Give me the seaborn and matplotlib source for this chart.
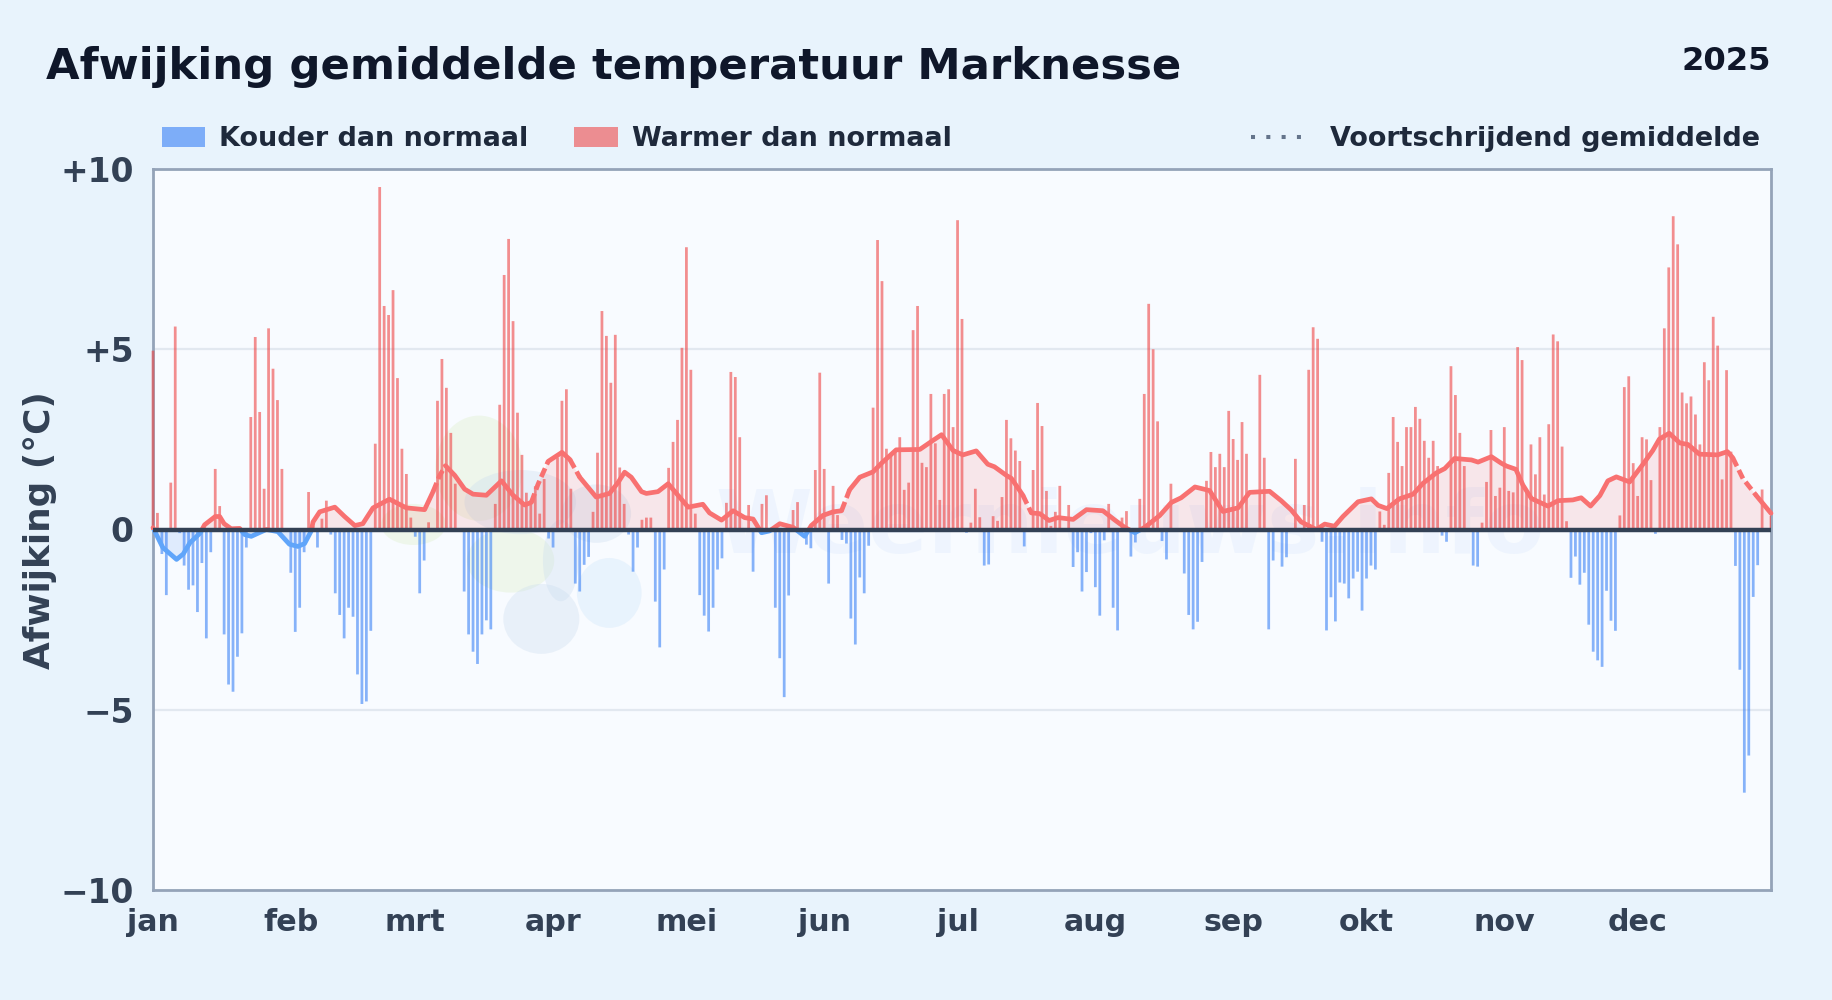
import numpy as np
import pandas as pd
import seaborn as sns
import matplotlib
matplotlib.use("Agg")
import matplotlib.pyplot as plt
from matplotlib.lines import Line2D
from matplotlib.patches import Ellipse, Patch, Rectangle

jan = [4.96,.46,-.68,-1.82,1.3,5.63,-.1,-1.0,-1.67,-1.55,-2.29,-.93,-3.02,-.63,1.68,.65,-2.91,-4.3,-4.5,-3.53,-2.88,-.5,3.12,5.34,3.26,1.13,5.58,4.46,3.59,1.68,0]
feb = [-1.2,-2.84,-2.17,-.63,1.04,.1,-.5,.3,.8,-.14,-1.77,-2.37,-3.02,-2.17,-2.42,-4.02,-4.84,-4.77,-2.81,2.38,9.5,6.2,5.95,6.64,4.2,2.24,1.54,.33]
mrt = [-.2,-1.77,-.86,.2,0,3.57,4.73,3.93,2.68,1.27,0,-1.72,-2.91,-3.39,-3.73,-2.91,-2.52,-2.77,.71,3.46,7.06,8.06,5.78,3.24,2.07,1.02,.7,1.2,.44,1.4,-.25]
apr = [-.5,2.0,3.57,3.89,1.13,-1.5,-1.72,-.98,-.76,.49,2.13,6.06,5.37,4.07,5.4,1.72,.71,-.14,-1.17,-.5,.27,.33,.33,-2.0,-3.27,-1.11,1.71,2.43,3.04,5.04]
mei = [7.83,4.43,.44,-1.82,-2.39,-2.83,-2.17,-1.11,-.8,.74,4.37,4.23,2.56,0,.68,-1.17,0,.71,.95,0,-2.17,-3.57,-4.65,-1.83,.54,.76,0,-.42,-.52,1.65,4.35]
jun = [1.68,-1.5,1.21,.4,-.29,-.39,-2.47,-3.19,-1.33,-1.77,-.45,3.38,8.03,6.89,2.24,2.04,2.19,2.56,1.1,1.3,5.53,6.2,1.85,1.73,3.76,2.39,.82,3.76,3.89,2.84]
jul = [8.58,5.84,-.09,.19,1.13,.34,-1.0,-.97,.37,.24,.9,3.04,2.53,2.19,1.9,-.47,0,1.65,3.51,2.87,1.07,.1,.49,1.21,0,.68,-1.04,-.63,-1.72,-1.18,-.1]
aug = [-1.6,-2.39,-.3,.71,-2.17,-2.8,.33,.51,-.75,-.36,.85,3.76,6.26,5.0,3.0,-.32,-.83,1.27,0,0,-1.22,-2.37,-2.77,-2.56,-.9,1.35,2.15,1.73,2.1,1.73,3.29]
sep = [2.51,1.93,2.98,2.1,0,0,4.29,1.99,-2.77,-.86,0,-1.03,-.77,0,1.96,0,.68,4.43,5.61,5.29,-.34,-2.8,-1.88,-2.55,-1.47,-1.5,-1.91,-1.36,-1.17,-2.25]
okt = [-1.36,-1.0,-1.11,.5,.13,1.57,3.12,2.43,1.76,2.84,2.84,3.4,3.07,2.46,1.99,2.46,1.76,-.17,-.34,4.53,3.73,2.68,1.76,0,-1.0,-1.03,.19,1.32,2.76,.93,1.16]
nov = [2.84,1.07,1.03,5.06,4.7,1.1,2.36,1.53,2.56,.97,2.92,5.41,5.22,2.3,.23,-1.34,-.75,-1.53,-1.2,-2.64,-3.39,-3.63,-3.81,-1.7,-2.53,-2.81,.39,3.95,4.25,1.84]
dec = [.93,2.56,2.5,1.37,-.12,2.84,5.58,7.27,8.69,7.91,3.8,3.5,3.69,3.19,2.36,4.64,4.14,5.9,5.1,1.39,4.42,2.16,-1.01,-3.89,-7.3,-6.27,-1.87,-.99,1.11,0,.38]

maanden = ["jan","feb","mrt","apr","mei","jun","jul","aug","sep","okt","nov","dec"]
maand_start = [0,31,59,90,120,151,181,212,243,273,304,334]

gem_dag = [0,2.2,5.3,6.8,8.3,10.6,11.6,14,15,16,17.6,19.5,20.6,22.1,25.5,28.1,30.7,32.6,34.1,35.6,36,37.5,40.9,43.1,45.4,47.2,49.5,53.2,57,61.1,
           63,64.5,65.8,67.9,70.1,72,75,78.4,81,83.6,85.1,86.6,88.9,92,93.8,96,99.7,102.7,104.6,106.1,107.6,109.9,111,113.6,115.9,118.1,120.4,
           123.7,125.2,127.9,130.5,133.1,135,136.9,138.7,141,144,146.6,148.1,150.7,153,154.9,156.7,159,162,163.9,167.2,172.5,175.1,177.4,180,182.2,
           185.2,187.8,189.3,192,193.1,195.7,197.6,199.5,201.6,203.6,207,210,213.7,216.4,218.6,220.9,223.1,226.5,229.1,231.3,234.4,237.7,240.7,
           244.1,246.7,251.2,253.8,256,258.3,261.7,263.6,265.8,267.7,271.1,274.1,275.6,277.6,280.4,283.5,285.7,288.7,290.6,292.8,296.6,298.1,301.1,303.3,
           304.5,306.6,308.2,310.1,313.8,316.1,319.4,321.3,323.4,325.5,327.3,329.2,332.2,335.2,337.4,338.9,341.1,343.5,345.3,347.9,352,354.2,355.4,357.7,360.7,364]
gem_waarde = [.05,-.5,-.83,-.68,-.37,-.1,.13,.36,.36,.16,.02,.03,-.14,-.19,0,-.06,-.41,-.47,-.39,-.04,.21,.49,.62,.36,.11,.16,.6,.84,.6,.55,
              1.05,1.5,1.77,1.5,1.12,.98,.95,1.35,.95,.68,.75,1.25,1.89,2.14,1.94,1.45,.9,1.0,1.3,1.59,1.45,1.05,1.0,1.05,1.27,.95,.62,
              .7,.46,.26,.52,.33,.29,-.09,-.04,.16,.06,-.19,.11,.39,.49,.52,1.1,1.45,1.6,1.84,2.21,2.22,2.44,2.63,2.19,2.07,
              2.18,1.81,1.74,1.5,1.42,.95,.46,.44,.25,.33,.28,.55,.52,.26,.06,-.09,.06,.39,.75,.88,1.18,1.08,.5,
              .6,1.03,1.06,.8,.55,.21,0,.15,.09,.36,.77,.85,.67,.58,.85,.98,1.28,1.57,1.69,1.97,1.93,1.87,2.02,1.84,
              1.76,1.67,1.23,.86,.65,.8,.82,.88,.65,.94,1.35,1.46,1.32,1.81,2.19,2.51,2.67,2.4,2.36,2.09,2.07,2.16,1.99,1.41,.94,.45]
gestippeld = [(63,65.8),(85.1,88.9),(93.8,96),(154.9,156.7),(195.7,197.6),(355.4,360.7)]

titel = "Afwijking gemiddelde temperatuur Marknesse"
jaar = "2025"

BLAUW, ROOD = "#3b82f6", "#ef4444"
LIJN_ROOD, LIJN_BLAUW = "#f87171", "#60a5fa"
W, H = 1832, 1000
BALK = 0.62

sns.set_theme(style="white")
plt.rcParams["font.family"] = ["DejaVu Sans"]
fig = plt.figure(figsize=(W/100, H/100), dpi=100, facecolor="#e8f3fc")
ax = fig.add_axes([153/W, 1-890/H, (1771-153)/W, (890-169)/H], facecolor="#f8fbff")

# watermerk: logo (in fracties van de assen) en tekst
GROEN, GRIJS, LICHT = ("#dcefc8", .35), ("#c9dbef", .33), ("#bcdcf8", .25)
for (cx, cy, w, h, (c, a)) in [(.2015,.585,.054,.146,GROEN),(.161,.507,.040,.057,GROEN),(.221,.457,.054,.089,GROEN),
                               (.227,.538,.069,.089,GRIJS),(.240,.376,.047,.097,GRIJS),(.252,.457,.022,.113,GRIJS),
                               (.274,.522,.043,.081,GRIJS),(.282,.412,.040,.097,LICHT)]:
    ax.add_patch(Ellipse((cx, cy), w, h, transform=ax.transAxes, color=c, alpha=a, lw=0, zorder=0))
ax.text(.604, .50, "Weernieuws.info", transform=ax.transAxes, ha="center", va="center", fontsize=63.3,
        color="#3b82f6", alpha=.05, fontweight="bold", zorder=0)

afwijking = np.array(jan+feb+mrt+apr+mei+jun+jul+aug+sep+okt+nov+dec, dtype=float)
df = pd.DataFrame({"dag": np.arange(len(afwijking)), "afwijking": afwijking})
df["kant"] = np.where(df["afwijking"] < 0, "koud", "warm")
sns.barplot(data=df, x="dag", y="afwijking", hue="kant", native_scale=True, dodge=False, width=BALK,
            palette={"koud": BLAUW, "warm": ROOD}, alpha=.6, saturation=1, legend=False, ax=ax, zorder=2)
for c in ax.containers:
    for p in c:
        midden = p.get_x() + p.get_width()/2
        p.set_width(BALK)
        p.set_x(midden - BALK/2)
        p.set_linewidth(0)
        p.set_snap(False)
        if midden < 0.5:
            p.set_clip_on(False)

for s in [-5, 5]:
    ax.axhline(s, color="#e2e8f0", lw=1.6, zorder=1)

x = np.array(gem_dag); y = np.array(gem_waarde)
ax.fill_between(x, y, 0, where=y >= 0, interpolate=True, color=ROOD, alpha=.11, lw=0, zorder=3)
ax.fill_between(x, y, 0, where=y <= 0, interpolate=True, color=BLAUW, alpha=.13, lw=0, zorder=3)

def in_stip(a, b):
    return any(l <= a and b <= h for l, h in gestippeld)

segmenten = []
for i in range(len(x)-1):
    d = in_stip(x[i], x[i+1])
    if segmenten and segmenten[-1][0] == d:
        segmenten[-1][1].append(i+1)
    else:
        segmenten.append((d, [i, i+1]))

for kleur, rect in [(LIJN_ROOD, (-5, 0, 380, 12)), (LIJN_BLAUW, (-5, -12, 380, 12))]:
    for d, idx in segmenten:
        l, = ax.plot(x[idx], y[idx], color=kleur, lw=3.4, zorder=4,
                     linestyle=(0, (2.0, 0.9)) if d else "-",
                     solid_joinstyle="round", solid_capstyle="round", dash_capstyle="butt")
        l.set_clip_path(Rectangle(rect[:2], rect[2], rect[3], transform=ax.transData))

ax.axhline(0, color="#334155", lw=3.2, zorder=5)

ax.set_xlim(0, 364)
ax.set_ylim(-10, 10)
ax.set_xticks(maand_start, maanden)
ax.set_yticks([10, 5, 0, -5, -10], ["+10", "+5", "0", "−5", "−10"])
ax.set_xlabel("")
ax.set_ylabel("")
ax.tick_params(axis="x", length=0, pad=12.7, labelsize=21.7, labelcolor="#334155")
ax.tick_params(axis="y", length=0, pad=14, labelsize=23.7, labelcolor="#334155")
for t in ax.get_xticklabels() + ax.get_yticklabels():
    t.set_fontweight("bold")
for s in ax.spines.values():
    s.set_visible(True); s.set_color("#94a3b8"); s.set_linewidth(2.0); s.set_zorder(1.5)

fig.text(40/W, 1-530/H, "Afwijking (°C)", rotation=90, ha="center", va="center",
         fontsize=25.8, fontweight="bold", color="#334155")
fig.text(46/W, 1-79/H, titel, ha="left", va="baseline", fontsize=31.25, fontweight="bold", color="#0f172a")
fig.text(1771/W, 1-70/H, jaar, ha="right", va="baseline", fontsize=23.2, fontweight="bold", color="#0f172a")

lprop = {"size": 19.45, "weight": "bold"}
leg1 = fig.legend(handles=[Patch(color=BLAUW, alpha=.62, lw=0, label="Kouder dan normaal"),
                           Patch(color=ROOD, alpha=.58, lw=0, label="Warmer dan normaal")],
                  loc="center left", bbox_to_anchor=(162/W, 1-139.5/H), ncol=2, frameon=False, prop=lprop,
                  handlelength=1.6, handleheight=.72, handletextpad=.52, columnspacing=1.7,
                  borderpad=0, borderaxespad=0, labelcolor="#1e293b")
leg2 = fig.legend(handles=[Line2D([0], [0], color="#64748b", lw=2.9, linestyle=(0, (1, 2.8)), dash_capstyle="butt",
                                  label="Voortschrijdend gemiddelde")],
                  loc="center right", bbox_to_anchor=(1760/W, 1-139.5/H), frameon=False, prop=lprop,
                  handlelength=2.12, handletextpad=.8, borderpad=0, borderaxespad=0, labelcolor="#1e293b")

fig.savefig("out.png", dpi=100, facecolor=fig.get_facecolor())
